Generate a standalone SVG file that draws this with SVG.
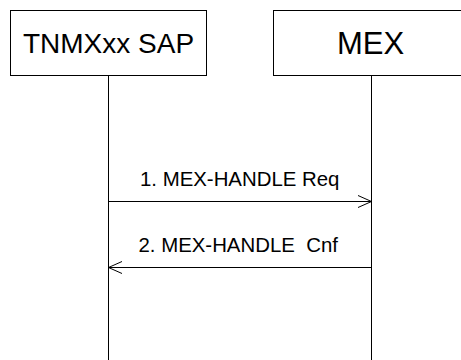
<svg xmlns="http://www.w3.org/2000/svg" width="461" height="360" viewBox="0 0 461 360">
<style>
.box{fill:#fff;stroke:#000;stroke-width:1}
.life{stroke:#000;stroke-width:1;fill:none}
.msg{stroke:#000;stroke-width:1;fill:none}
.head{stroke:#000;stroke-width:1;fill:none}
text{font-family:"Liberation Sans",Arial,sans-serif;fill:#000;white-space:pre}
.t1{font-size:28px}
.t2{font-size:31px}
.lbl{font-size:20.4px}
</style>
<rect width="461" height="360" fill="#fff"/>
<g id="node-tnmxxx">
<rect class="box" x="10.5" y="10.5" width="196" height="65"/>
<text class="t1" x="108.5" y="53" text-anchor="middle">TNMXxx SAP</text>
</g>
<g id="node-mex">
<rect class="box" x="273.5" y="10.5" width="196" height="65"/>
<text class="t2" x="370.5" y="54" text-anchor="middle">MEX</text>
</g>
<g id="connectors">
<line class="life" x1="108.5" y1="76" x2="108.5" y2="360"/>
<line class="life" x1="371.5" y1="76" x2="371.5" y2="360"/>
<line class="msg" x1="108.5" y1="201.5" x2="371.5" y2="201.5"/>
<polyline class="head" points="358,195.5 371.5,201.5 358,207.5"/>
<text class="lbl" x="140" y="186">1. MEX-HANDLE Req</text>
<line class="msg" x1="108.5" y1="267.5" x2="371.5" y2="267.5"/>
<polyline class="head" points="122,261.5 108.5,267.5 122,273.5"/>
<text class="lbl" x="138.5" y="252">2. MEX-HANDLE  Cnf</text>
</g>
</svg>
